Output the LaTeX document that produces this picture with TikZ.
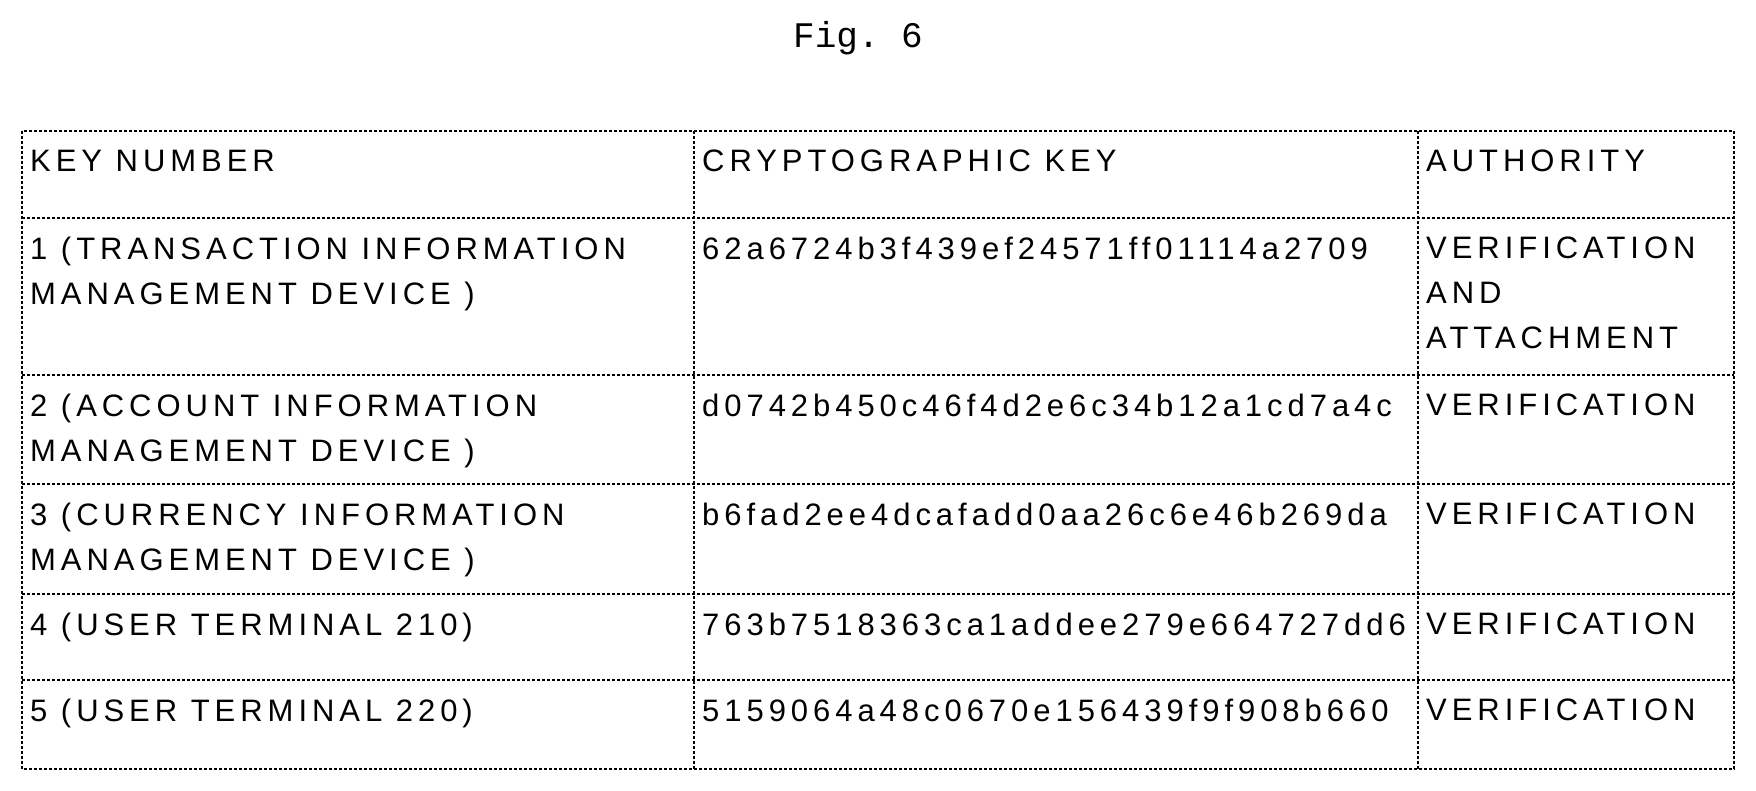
\documentclass[tikz,border=0pt]{standalone}
\usepackage{fontspec}
\setmainfont[LetterSpace=16]{Liberation Sans}
\setmonofont{Liberation Mono}
\usetikzlibrary{positioning}

\tikzset{
  grid line/.style={densely dashed,line width=1.2pt},
  cell/.style={anchor=north west,align=left,inner sep=0pt,font=\fontsize{31}{45}\selectfont},
}

\begin{document}
\begin{tikzpicture}[x=1pt,y=-1pt]
\useasboundingbox (0,0) rectangle (1756,791);

\node[font=\ttfamily\fontsize{36}{40}\selectfont] (title) at (858,38) {Fig. 6};

% frame and rules
\draw[grid line] (22,131) rectangle (1734,769);
\foreach \y in {218,375,484,594,680}
  \draw[grid line] (22,\y) -- (1734,\y);
\foreach \x in {694,1418}
  \draw[grid line] (\x,131) -- (\x,769);

% header
\node[cell] (h1) at (30,150) {KEY NUMBER};
\node[cell] (h2) at (702,150) {CRYPTOGRAPHIC KEY};
\node[cell] (h3) at (1426,150) {AUTHORITY};

% rows
\node[cell] (n1) at (30,237) {1 (TRANSACTION INFORMATION\\MANAGEMENT DEVICE )};
\node[cell] (k1) at (702,237) {62a6724b3f439ef24571ff01114a2709};
\node[cell] (a1) at (1426,237) {VERIFICATION\\AND\\ATTACHMENT};

\node[cell] (n2) at (30,394) {2 (ACCOUNT INFORMATION\\MANAGEMENT DEVICE )};
\node[cell] (k2) at (702,394) {d0742b450c46f4d2e6c34b12a1cd7a4c};
\node[cell] (a2) at (1426,394) {VERIFICATION};

\node[cell] (n3) at (30,503) {3 (CURRENCY INFORMATION\\MANAGEMENT DEVICE )};
\node[cell] (k3) at (702,503) {b6fad2ee4dcafadd0aa26c6e46b269da};
\node[cell] (a3) at (1426,503) {VERIFICATION};

\node[cell] (n4) at (30,613) {4 (USER TERMINAL 210)};
\node[cell] (k4) at (702,613) {763b7518363ca1addee279e664727dd6};
\node[cell] (a4) at (1426,613) {VERIFICATION};

\node[cell] (n5) at (30,699) {5 (USER TERMINAL 220)};
\node[cell] (k5) at (702,699) {5159064a48c0670e156439f9f908b660};
\node[cell] (a5) at (1426,699) {VERIFICATION};

\end{tikzpicture}
\end{document}
